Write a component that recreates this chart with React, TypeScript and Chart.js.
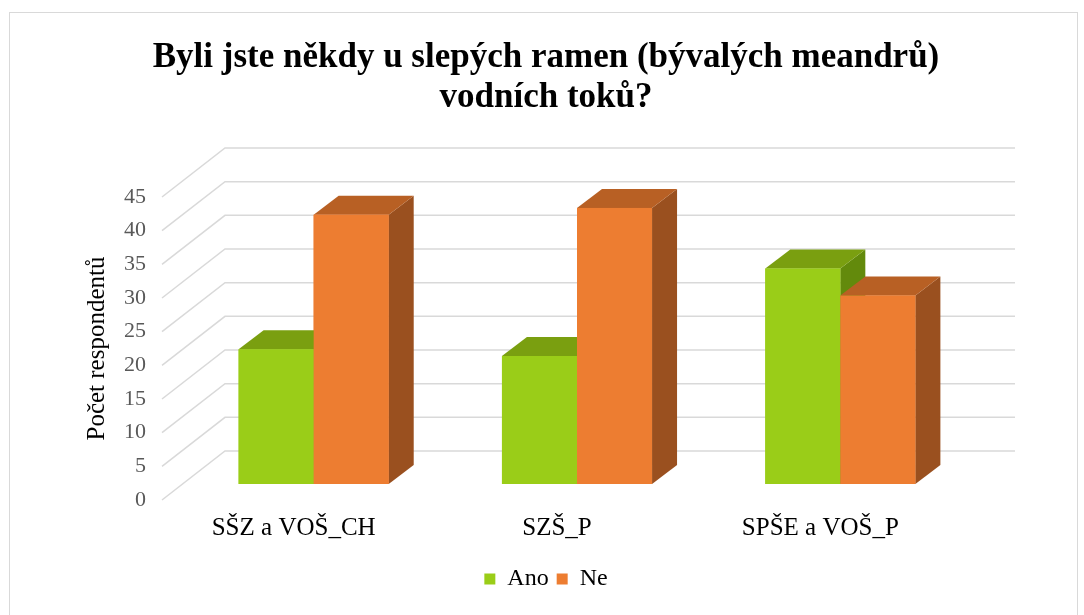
import React, { useEffect, useRef } from 'react';
import { Chart, registerables } from 'chart.js';

Chart.register(...registerables);

// ---- data ----
const categories = ['SŠZ a VOŠ_CH', 'SZŠ_P', 'SPŠE a VOŠ_P'];
const seriesNames = ['Ano', 'Ne'];
const anoValues = [20, 19, 32];
const neValues = [40, 41, 28];
const yMin = 0;
const yMax = 45;
const yStep = 5;
const titleLines = ['Byli jste někdy u slepých ramen (bývalých meandrů)', 'vodních toků?'];
const yAxisTitle = 'Počet respondentů';

// ---- styles ----
const FONT = "'Liberation Serif', 'Times New Roman', serif";
const WALL_DX = 63;
const WALL_DY = 49;
const BAR_DX = 20;
const BAR_DY = 16;
const DEPTH_DX = 25;
const DEPTH_DY = 19;
const FACES = [
  { front: '#9ACD18', top: '#7A9F10', side: '#638A0C' },
  { front: '#ED7D31', top: '#B86024', side: '#9A501F' },
];
const GRID = '#D9D9D9';

const threeDPlugin = {
  id: 'threeD',
  beforeDraw(chart: any) {
    const ctx = chart.ctx;
    ctx.save();
    ctx.fillStyle = '#FFFFFF';
    ctx.fillRect(0, 0, chart.width, chart.height);
    ctx.strokeStyle = GRID;
    ctx.lineWidth = 1;
    ctx.strokeRect(9.5, 12.5, 1068, 640);
    ctx.restore();
  },
  beforeDatasetsDraw(chart: any) {
    const { ctx, chartArea } = chart;
    const y = chart.scales.y;
    ctx.save();
    ctx.strokeStyle = GRID;
    ctx.lineWidth = 1.5;
    y.ticks.forEach((t: any) => {
      const py = y.getPixelForValue(t.value);
      ctx.beginPath();
      ctx.moveTo(chartArea.left, py);
      ctx.lineTo(chartArea.left + WALL_DX, py - WALL_DY);
      ctx.lineTo(chartArea.right + WALL_DX, py - WALL_DY);
      ctx.stroke();
    });
    ctx.restore();
    ctx.save();
    ctx.translate(BAR_DX, -BAR_DY);
  },
  afterDatasetsDraw(chart: any) {
    const ctx = chart.ctx;
    const metas = chart.data.datasets.map((_: any, i: number) => chart.getDatasetMeta(i));
    const n = chart.data.labels.length;
    for (let i = 0; i < n; i++) {
      metas.forEach((meta: any, d: number) => {
        const el = meta.data[i];
        if (!el) return;
        const { x, y, base, width } = el.getProps(['x', 'y', 'base', 'width'], true);
        const l = x - width / 2;
        const r = x + width / 2;
        const c = FACES[d];
        ctx.fillStyle = c.side;
        ctx.beginPath();
        ctx.moveTo(r, y);
        ctx.lineTo(r + DEPTH_DX, y - DEPTH_DY);
        ctx.lineTo(r + DEPTH_DX, base - DEPTH_DY);
        ctx.lineTo(r, base);
        ctx.closePath();
        ctx.fill();
        ctx.fillStyle = c.top;
        ctx.beginPath();
        ctx.moveTo(l, y);
        ctx.lineTo(l + DEPTH_DX, y - DEPTH_DY);
        ctx.lineTo(r + DEPTH_DX, y - DEPTH_DY);
        ctx.lineTo(r, y);
        ctx.closePath();
        ctx.fill();
        ctx.fillStyle = c.front;
        ctx.fillRect(l, y, r - l, base - y);
      });
    }
    ctx.restore();
  },
};

export default function App() {
  const ref = useRef<HTMLCanvasElement | null>(null);

  useEffect(() => {
    document.body.style.margin = '0';
    const canvas = ref.current;
    if (!canvas) return;
    const chart = new Chart(canvas, {
      type: 'bar',
      data: {
        labels: categories,
        datasets: [
          { label: seriesNames[0], data: anoValues, backgroundColor: FACES[0].front },
          { label: seriesNames[1], data: neValues, backgroundColor: FACES[1].front },
        ],
      },
      options: {
        responsive: false,
        animation: false,
        devicePixelRatio: 1,
        layout: { padding: { left: 8, right: 0, top: 0, bottom: 14 } },
        datasets: {
          bar: { categoryPercentage: 0.57, barPercentage: 1 },
        },
        scales: {
          x: {
            grid: { display: false, drawTicks: false },
            border: { display: false },
            ticks: {
              color: '#000000',
              font: { family: FONT, size: 25 },
              padding: 13,
              maxRotation: 0,
              autoSkip: false,
            },
            afterFit: (s: any) => {
              s.height = 59;
            },
          },
          y: {
            min: yMin,
            max: yMax,
            grid: { display: false, drawTicks: false },
            border: { display: false },
            ticks: {
              stepSize: yStep,
              color: '#595959',
              font: { family: FONT, size: 22 },
              padding: 16,
            },
            title: {
              display: true,
              text: yAxisTitle,
              color: '#000000',
              font: { family: FONT, size: 25 },
              padding: { top: 74, bottom: 0 },
            },
            afterFit: (s: any) => {
              s.width = 154;
            },
          },
          y2: {
            position: 'right',
            min: 0,
            max: 1,
            grid: { display: false },
            border: { display: false },
            ticks: { display: false },
            afterFit: (s: any) => {
              s.width = 132;
            },
          },
        },
        plugins: {
          title: {
            display: true,
            text: titleLines,
            color: '#000000',
            font: { family: FONT, size: 35, weight: 'bold', lineHeight: 1.15 },
            padding: { top: 37.5, bottom: 79 },
          },
          legend: {
            position: 'bottom',
            labels: {
              boxWidth: 11,
              boxHeight: 11,
              color: '#000000',
              font: { family: FONT, size: 24 },
              padding: 8,
            },
          },
          tooltip: { enabled: false },
        },
      },
      plugins: [threeDPlugin],
    } as any);
    return () => {
      chart.destroy();
    };
  }, []);

  return (
    <div style={{ width: 1084, height: 615 }}>
      <canvas ref={ref} width={1084} height={615} style={{ display: 'block', width: 1084, height: 615 }} />
    </div>
  );
}
